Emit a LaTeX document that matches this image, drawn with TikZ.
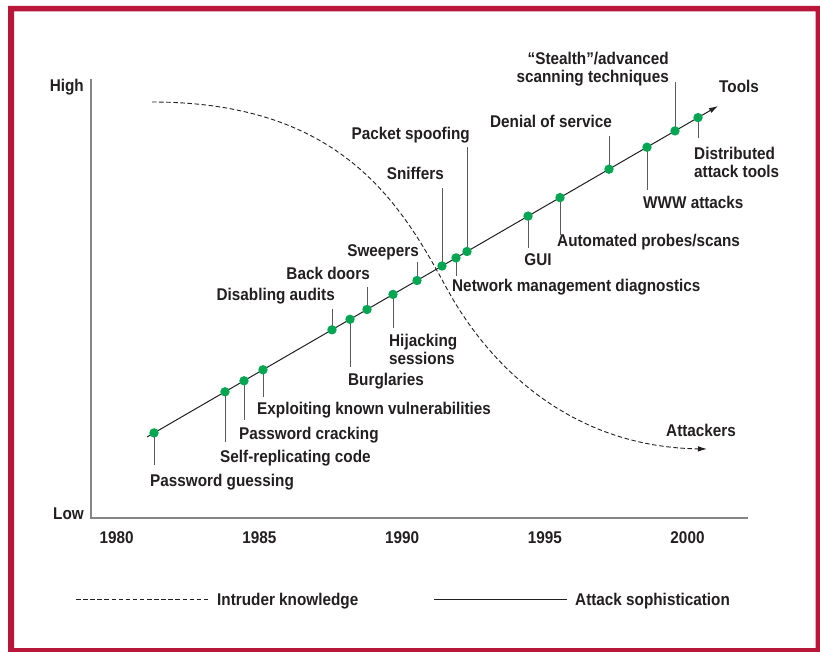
\documentclass[tikz,border=0pt]{standalone}
\usepackage{fontspec}
\newfontfamily\labfont{Liberation Sans}[FakeStretch=0.9]
\usetikzlibrary{arrows.meta}

\definecolor{framered}{HTML}{B8173A}
\definecolor{dotgreen}{HTML}{00A651}
\definecolor{ink}{HTML}{231F20}
\definecolor{axisgray}{HTML}{858585}
\definecolor{tickgray}{HTML}{5A5A5A}

\tikzset{
  lab/.style={inner sep=0pt, text=ink, font=\labfont\bfseries\fontsize{17}{18.5}\selectfont},
  dot/.style={circle, fill=dotgreen, inner sep=0pt, minimum size=9.4pt},
  tick/.style={draw=tickgray, line width=1pt},
  axis/.style={draw=axisgray, line width=1.6pt},
  toolline/.style={draw=ink, line width=1pt},
  knowline/.style={draw=ink, line width=0.9pt, dash pattern=on 4.5pt off 2.6pt},
  tip/.style={-{Latex[length=9pt,width=5.5pt]}},
}

\begin{document}
\begin{tikzpicture}[x=1pt, y=-1pt]
\useasboundingbox (0,0) rectangle (820,652);

% frame
\fill[framered, even odd rule] (8,6) rectangle (830,660) (14,11.5) rectangle (815.5,648);

% axes
\coordinate (ytop) at (91,79);
\coordinate (orig) at (91,518);
\coordinate (xend) at (748,518);
\draw[axis] (ytop) -- (orig) -- (xend);
\node[lab, anchor=base east] (high) at (84,92) {High};
\node[lab, anchor=base east] (low) at (84,519) {Low};
\foreach \yr/\xx in {1980/116.7, 1985/259.4, 1990/402.1, 1995/544.8, 2000/687.5}
  \node[lab, anchor=base] (y\yr) at (\xx,543) {\yr};

% intruder knowledge curve: flat start, steep middle, flat end
\coordinate (kstart) at (152,102);
\coordinate (kmid) at (446,287);
\coordinate (kend) at (707,449);
\draw[knowline, tip] (kstart) .. controls (340,102) and (400,202) .. (kmid)
  .. controls (488,365) and (570,447) .. (kend);
\node[lab, anchor=base west] (attackers) at (666,437) {Attackers};

% points on the sophistication line
\foreach \n/\xx/\yy in {
  pg/154/432.9, src/225/391.8, pc/244/380.8, ekv/263/369.8, da/332/329.8,
  bu/350/319.3, bd/367/309.5, hs/393/294.4, sw/417/280.5, sn/442/266.0,
  nmd/456/257.9, ps/467/251.5, gui/528/216.1, aps/560/197.6, dos/609/169.2,
  www/647/147.2, st/675/130.9, dat/698/117.6}
  \coordinate (p\n) at (\xx,\yy);

% leader lines to the labels
\foreach \n/\yy in {
  pg/465, src/442, pc/420, ekv/397, da/309, bu/367, bd/287, hs/328, sw/262,
  sn/188, nmd/276, ps/147, gui/248, aps/235, dos/136, www/190, st/82, dat/138}
  \draw[tick] (p\n) -- (p\n |- 0,\yy);

% attack sophistication line
\coordinate (tstart) at (147,437);
\coordinate (tend) at (718,106);
\draw[toolline, tip] (tstart) -- (tend);
\node[lab, anchor=base west] (tools) at (719,93) {Tools};

\foreach \n in {pg,src,pc,ekv,da,bu,bd,hs,sw,sn,nmd,ps,gui,aps,dos,www,st,dat}
  \node[dot] (d\n) at (p\n) {};

% labels (two-line labels are placed by their last baseline)
\node[lab, anchor=base west] (lpg) at (150,486) {Password guessing};
\node[lab, anchor=base west] (lsrc) at (220,462) {Self-replicating code};
\node[lab, anchor=base west] (lpc) at (239,439) {Password cracking};
\node[lab, anchor=base west] (lekv) at (257,415) {Exploiting known vulnerabilities};
\node[lab, anchor=base east] (lda) at (335,301) {Disabling audits};
\node[lab, anchor=base east] (lbd) at (370,280) {Back doors};
\node[lab, anchor=base west] (lbu) at (348,386) {Burglaries};
\node[lab, anchor=base west, align=left] (lhs) at (389,365) {Hijacking\\sessions};
\node[lab, anchor=base east] (lsw) at (419,257) {Sweepers};
\node[lab, anchor=base east] (lsn) at (444,180) {Sniffers};
\node[lab, anchor=base west] (lnmd) at (452,292) {Network management diagnostics};
\node[lab, anchor=base east] (lps) at (470,140) {Packet spoofing};
\node[lab, anchor=base] (lgui) at (538,266) {GUI};
\node[lab, anchor=base west] (laps) at (557,247) {Automated probes/scans};
\node[lab, anchor=base east] (ldos) at (612,128) {Denial of service};
\node[lab, anchor=base west] (lwww) at (643,209) {WWW attacks};
\node[lab, anchor=base east, align=right] (lst) at (669,83) {“Stealth”/advanced\\scanning techniques};
\node[lab, anchor=base west, align=left] (ldat) at (694,178) {Distributed\\attack tools};

% legend
\coordinate (lk1) at (76,599);
\coordinate (lk2) at (209,599);
\draw[knowline] (lk1) -- (lk2);
\node[lab, anchor=base west] (legk) at (217,605) {Intruder knowledge};
\coordinate (ls1) at (434,599);
\coordinate (ls2) at (567,599);
\draw[toolline] (ls1) -- (ls2);
\node[lab, anchor=base west] (legs) at (575,605) {Attack sophistication};
\end{tikzpicture}
\end{document}
